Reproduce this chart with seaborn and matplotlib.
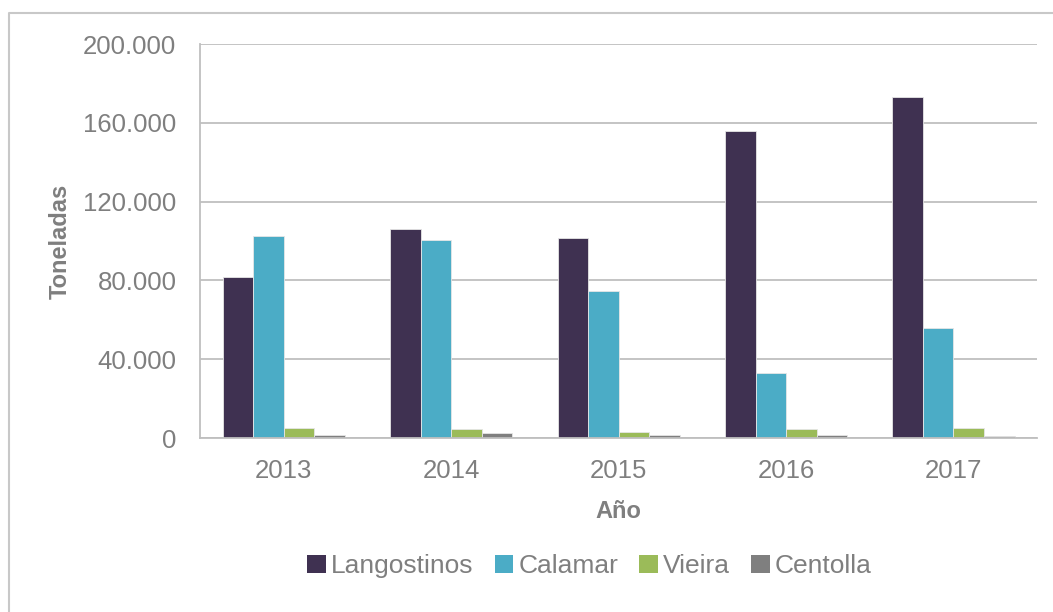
import numpy as np
import pandas as pd
import matplotlib.pyplot as plt
import seaborn as sns
from matplotlib.lines import Line2D
from matplotlib.patches import Patch
from matplotlib.ticker import FuncFormatter

years = ["2013", "2014", "2015", "2016", "2017"]
especies = ["Langostinos", "Calamar", "Vieira", "Centolla"]
langostinos = [81600, 106200, 101400, 155800, 173200]
calamar = [102700, 100700, 74800, 33000, 55800]
vieira = [5100, 4500, 3200, 4500, 4900]
centolla = [1600, 2400, 1600, 1600, 1000]
colores = ["#3F3151", "#4BACC6", "#9BBB59", "#7F7F7F"]

df = pd.DataFrame({
    "Año": years * 4,
    "Especie": np.repeat(especies, len(years)),
    "Toneladas": langostinos + calamar + vieira + centolla,
})

sns.set_style("white")
plt.rcParams["font.family"] = ["Liberation Sans", "DejaVu Sans"]
gris = "#7F7F7F"

fig = plt.figure(figsize=(10.53, 6.12), dpi=100)
ax = fig.add_axes([0.190, 0.2843, 0.795, 0.6438])

sns.barplot(data=df, x="Año", y="Toneladas", hue="Especie", order=years,
            hue_order=especies, palette=colores, saturation=1, width=0.73, ax=ax,
            edgecolor="#e6e6e6", linewidth=0.6, legend=False, errorbar=None)

ax.set_ylim(0, 200000)
ax.set_yticks(np.arange(0, 200001, 40000))
ax.yaxis.set_major_formatter(FuncFormatter(lambda v, p: f"{int(v):,}".replace(",", ".")))
ax.grid(axis="y", color="#BFBFBF", linewidth=1.3)
ax.set_axisbelow(True)
for s in ["top", "right"]:
    ax.spines[s].set_visible(False)
ax.spines["left"].set_color("#BFBFBF")
ax.spines["bottom"].set_color("#BFBFBF")
ax.spines["left"].set_linewidth(1.3)
ax.spines["bottom"].set_linewidth(1.3)
ax.tick_params(axis="both", length=0, labelsize=18.5, labelcolor=gris)
ax.tick_params(axis="y", pad=17)
ax.tick_params(axis="x", pad=15)

ax.set_xlabel("Año", fontsize=17, fontweight="bold", color=gris, labelpad=12)
ax.set_ylabel("Toneladas", fontsize=17, fontweight="bold", color=gris, labelpad=8)

handles = [Patch(facecolor=c, edgecolor="none") for c in colores]
fig.legend(handles, especies, loc="center", bbox_to_anchor=(0.560, 0.075), ncol=4,
           frameon=False, fontsize=19, labelcolor=gris, handlelength=0.7,
           handleheight=0.7, handletextpad=0.2, columnspacing=0.8)

# marco exterior del gráfico
fig.add_artist(Line2D([9 / 1053, 9 / 1053, 1.0], [0.0, 1 - 13 / 612, 1 - 13 / 612],
                      transform=fig.transFigure, color="#C8C8C8", linewidth=1.5))

fig.savefig("out.png", dpi=100)
